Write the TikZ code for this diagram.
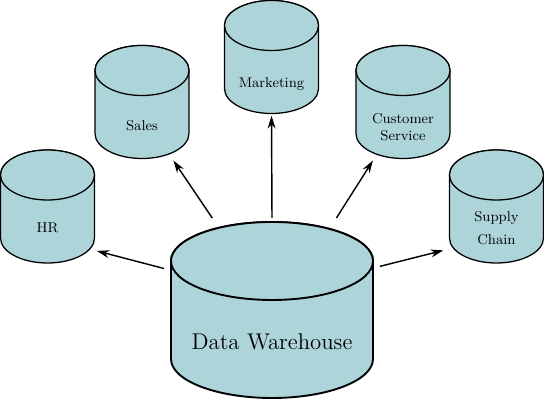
\documentclass[tikz,border=0pt]{standalone}
\usepackage{tikz}
\usetikzlibrary{calc,arrows.meta}
\definecolor{dbfill}{RGB}{173,212,217}

\begin{document}
\begin{tikzpicture}[x=0.2223cm,y=0.2223cm,
    dbbox/.style={inner sep=0pt, outer sep=0pt, minimum width=2.090cm, minimum height=2.512cm},
    dbline/.style={draw=black, thick, fill=dbfill},
    dblabel/.style={align=center, inner sep=1pt, font=\small},
    link/.style={-{Stealth[length=8pt,width=5pt]}, line width=0.9pt, shorten >=1.5pt}]
        \useasboundingbox (0,0) rectangle (54.4,40.1);

        % kleine Zylinder: Halbachsen und Hoehe
        \def\rs{4.7}
        \def\ys{2.5}
        \def\hs{11.3}

        \node[dbbox] (hr) at (4.75,19.45) {};
        \node[dbbox] (sales) at (14.2,29.9) {};
        \node[dbbox] (mkt) at (27.15,34.4) {};
        \node[dbbox] (cs) at (40.3,29.9) {};
        \node[dbbox] (sc) at (49.65,19.45) {};
        % Data Warehouse, etwas Abstand fuer die Pfeile
        \node[dbbox, minimum width=4.490cm, minimum height=3.912cm,
              outer xsep=0.1556cm, outer ysep=0.0889cm] (dw) at (27.2,9.1) {};

        \filldraw[dbline] (hr) ++(-\rs,\hs/2-\ys) -- ++(0,-\hs+2*\ys) arc[start angle=180,end angle=360,x radius=\rs,y radius=\ys] -- ++(0,\hs-2*\ys) arc[start angle=0,end angle=180,x radius=\rs,y radius=\ys] -- cycle;
        \draw[dbline] (hr) ++(0,\hs/2-\ys) ellipse[x radius=\rs,y radius=\ys];

        \filldraw[dbline] (sales) ++(-\rs,\hs/2-\ys) -- ++(0,-\hs+2*\ys) arc[start angle=180,end angle=360,x radius=\rs,y radius=\ys] -- ++(0,\hs-2*\ys) arc[start angle=0,end angle=180,x radius=\rs,y radius=\ys] -- cycle;
        \draw[dbline] (sales) ++(0,\hs/2-\ys) ellipse[x radius=\rs,y radius=\ys];

        \filldraw[dbline] (mkt) ++(-\rs,\hs/2-\ys) -- ++(0,-\hs+2*\ys) arc[start angle=180,end angle=360,x radius=\rs,y radius=\ys] -- ++(0,\hs-2*\ys) arc[start angle=0,end angle=180,x radius=\rs,y radius=\ys] -- cycle;
        \draw[dbline] (mkt) ++(0,\hs/2-\ys) ellipse[x radius=\rs,y radius=\ys];

        \filldraw[dbline] (cs) ++(-\rs,\hs/2-\ys) -- ++(0,-\hs+2*\ys) arc[start angle=180,end angle=360,x radius=\rs,y radius=\ys] -- ++(0,\hs-2*\ys) arc[start angle=0,end angle=180,x radius=\rs,y radius=\ys] -- cycle;
        \draw[dbline] (cs) ++(0,\hs/2-\ys) ellipse[x radius=\rs,y radius=\ys];

        \filldraw[dbline] (sc) ++(-\rs,\hs/2-\ys) -- ++(0,-\hs+2*\ys) arc[start angle=180,end angle=360,x radius=\rs,y radius=\ys] -- ++(0,\hs-2*\ys) arc[start angle=0,end angle=180,x radius=\rs,y radius=\ys] -- cycle;
        \draw[dbline] (sc) ++(0,\hs/2-\ys) ellipse[x radius=\rs,y radius=\ys];

        \filldraw[dbline, line width=1.2pt] (dw) ++(-10.1,4.9) -- ++(0,-9.8) arc[start angle=180,end angle=360,x radius=10.1,y radius=3.9] -- ++(0,9.8) arc[start angle=0,end angle=180,x radius=10.1,y radius=3.9] -- cycle;
        \draw[dbline, line width=1.2pt] (dw) ++(0,4.9) ellipse[x radius=10.1,y radius=3.9];

        \node[dblabel] (hrtext) at ($(hr)+(0,-2.1)$) {HR};
        \node[dblabel] (salestext) at ($(sales)+(0,-2.4)$) {Sales};
        \node[dblabel] (mkttext) at ($(mkt)+(0,-2.75)$) {Marketing};
        \node[dblabel] (cstext) at ($(cs)+(0,-2.5)$) {Customer\\Service};
        \node[dblabel] (sctext) at ($(sc)+(0,-2.2)$) {Supply\\[3.5pt]Chain};
        \node[dblabel, font=\Large] (dwtext) at ($(dw)+(0,-3.2)$) {Data Warehouse};

        \draw[link] (dw.159.7) -- (hr.-43);
        \draw[link] (dw.123.8) -- (sales.-62.6);
        \draw[link] (dw.90) -- (mkt.south);
        \draw[link] (dw.55.2) -- (cs.-117.4);
        \draw[link, shorten >=4pt] (dw.22.6) -- (sc.-138.2);
    \end{tikzpicture}
\end{document}
